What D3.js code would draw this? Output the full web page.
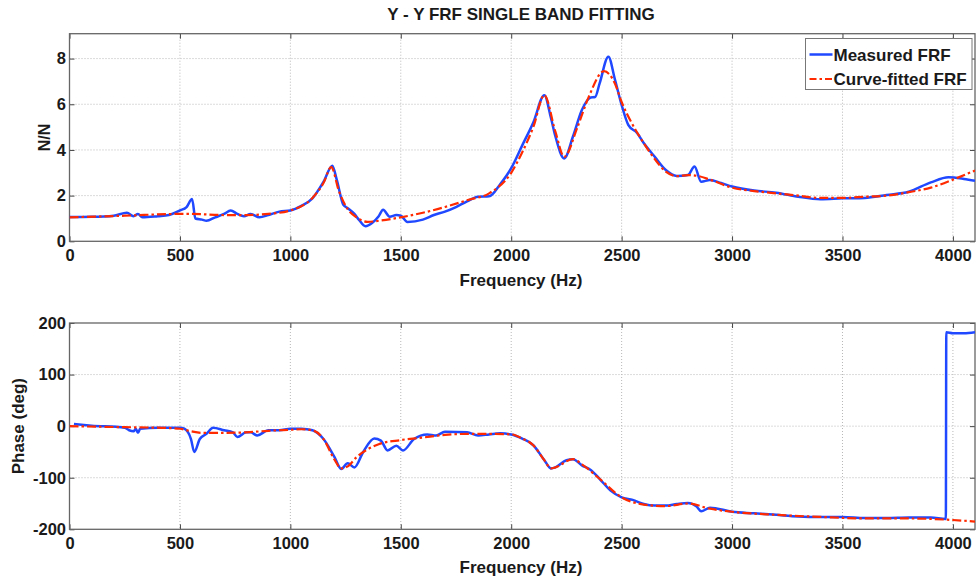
<!DOCTYPE html>
<html>
<head>
<meta charset="utf-8">
<script src="https://cdn.jsdelivr.net/npm/d3@7"></script>
<style>
  html, body { margin: 0; padding: 0; background: #fff; }
  svg { display: block; font-family: "Liberation Sans", Arial, sans-serif; }
</style>
</head>
<body>
<svg id="chart" width="976" height="583"></svg>
<script>
// ---------- DATA ----------
const title = "Y - Y FRF SINGLE BAND FITTING";
const seriesNames = ["Measured FRF", "Curve-fitted FRF"];
const freqTicks = [0, 500, 1000, 1500, 2000, 2500, 3000, 3500, 4000];
const magTicks = [0, 2, 4, 6, 8];
const phaseTicks = [-200, -100, 0, 100, 200];

// Magnitude, measured [Hz, N/N]
const magMeasured = [
  [0,1.06],[100,1.07],[200,1.12],[260,1.25],[290,1.1],[310,1.2],[330,1.05],[400,1.1],[450,1.15],
  [500,1.35],[530,1.5],[555,1.85],[570,1.0],[600,0.95],[620,0.9],[660,1.05],[700,1.2],[730,1.35],
  [760,1.2],[790,1.1],[820,1.2],[860,1.05],[900,1.15],[950,1.3],[1000,1.35],[1050,1.55],[1100,1.88],
  [1150,2.6],[1190,3.31],[1210,2.7],[1240,1.6],[1260,1.45],[1290,1.2],[1310,0.95],[1340,0.66],
  [1370,0.8],[1400,1.1],[1420,1.38],[1450,1.08],[1480,1.15],[1500,1.12],[1530,0.85],[1600,0.95],
  [1650,1.15],[1700,1.3],[1750,1.5],[1800,1.75],[1850,1.95],[1900,1.97],[1950,2.5],[2000,3.2],
  [2050,4.2],[2100,5.2],[2150,6.4],[2180,5.4],[2200,4.6],[2240,3.63],[2280,4.6],[2320,5.75],
  [2360,6.3],[2380,6.32],[2400,6.9],[2440,8.08],[2470,7.07],[2500,5.97],[2530,5.1],[2570,4.74],
  [2600,4.3],[2650,3.7],[2700,3.12],[2750,2.86],[2800,2.9],[2830,3.27],[2860,2.61],[2900,2.68],
  [2950,2.55],[3000,2.4],[3100,2.22],[3200,2.13],[3300,1.95],[3400,1.84],[3500,1.88],[3600,1.9],
  [3700,2.03],[3800,2.17],[3900,2.58],[3980,2.8],[4050,2.73],[4100,2.65]
];
// Magnitude, curve-fitted
const magFitted = [
  [0,1.05],[250,1.12],[500,1.2],[550,1.2],[700,1.15],[800,1.15],[900,1.2],[1000,1.35],[1100,1.9],
  [1150,2.55],[1185,3.25],[1220,2.2],[1260,1.4],[1300,1.05],[1350,0.85],[1400,0.9],[1500,1.05],
  [1600,1.25],[1700,1.5],[1800,1.8],[1900,2.1],[2000,3.0],[2050,3.9],[2100,5.0],[2150,6.4],
  [2200,4.8],[2240,3.7],[2300,5.0],[2350,6.3],[2420,7.45],[2470,6.9],[2500,6.1],[2550,5.1],
  [2600,4.3],[2650,3.6],[2700,3.05],[2750,2.85],[2800,2.9],[2850,2.85],[2900,2.7],[3000,2.35],
  [3100,2.2],[3200,2.1],[3300,2.0],[3400,1.9],[3500,1.9],[3600,1.95],[3700,2.0],[3800,2.15],
  [3900,2.35],[4000,2.7],[4100,3.1]
];
// Phase, measured [Hz, deg]
const phaseMeasured = [
  [20,4],[100,1],[250,-3],[270,-8],[290,-10],[300,-5],[310,-13],[320,-5],[400,-3],[500,-3],
  [520,-5],[550,-25],[565,-50],[590,-25],[620,-15],[650,-3],[700,-8],[740,-12],[760,-21],[800,-12],
  [820,-12],[850,-18],[900,-8],[950,-8],[1000,-5],[1050,-5],[1100,-8],[1150,-25],[1200,-60],
  [1230,-83],[1260,-72],[1290,-80],[1330,-50],[1380,-24],[1410,-28],[1440,-47],[1480,-38],
  [1510,-47],[1560,-25],[1620,-16],[1660,-18],[1700,-11],[1800,-12],[1850,-18],[1900,-16],
  [1950,-14],[2000,-16],[2050,-24],[2100,-37],[2150,-66],[2180,-82],[2200,-80],[2250,-66],
  [2280,-64],[2320,-76],[2360,-85],[2400,-102],[2450,-125],[2500,-138],[2550,-143],[2600,-151],
  [2650,-154],[2700,-154],[2750,-151],[2800,-149],[2840,-156],[2860,-165],[2900,-158],[3000,-166],
  [3100,-169],[3200,-172],[3300,-175],[3400,-176],[3500,-176],[3600,-178],[3700,-178],[3800,-177],
  [3900,-177],[3968,-180],[3970,182],[4000,180],[4050,180],[4100,182]
];
// Phase, curve-fitted
const phaseFitted = [
  [0,0],[250,-2],[400,-3],[500,-5],[550,-10],[600,-13],[700,-13],[800,-12],[900,-9],[1000,-7],
  [1050,-6],[1100,-8],[1150,-25],[1200,-65],[1230,-82],[1260,-78],[1300,-60],[1350,-45],[1400,-35],
  [1500,-27],[1600,-22],[1700,-17],[1800,-15],[1900,-15],[2000,-16],[2050,-24],[2100,-37],[2150,-66],
  [2180,-82],[2200,-80],[2280,-64],[2320,-74],[2400,-102],[2500,-138],[2600,-152],[2700,-155],
  [2800,-150],[2900,-160],[3000,-166],[3200,-172],[3400,-176],[3600,-179],[3800,-179],[4000,-182],
  [4100,-185]
];

// ---------- STYLE ----------
const blue = "#1f48ff";
const red = "#ff2a00";
const svg = d3.select("#chart");
const FS = 16.5;

const x = d3.scaleLinear().domain([0, 4100]).range([69.5, 975]);

function panel(top, bottom, domain, ticks, yLabel, yLabelX, yLabelSize, measured, fitted, xLabelY) {
  const y = d3.scaleLinear().domain(domain).range([bottom, top]);
  const g = svg.append("g");
  const L = x.range()[0], R = x.range()[1];

  // grid
  g.append("g").selectAll("line").data(freqTicks.filter(t => t > 0)).join("line")
    .attr("x1", d => x(d)).attr("x2", d => x(d)).attr("y1", top).attr("y2", bottom)
    .attr("stroke", "#b8b8b8").attr("stroke-width", 1).attr("stroke-dasharray", "1,2");
  g.append("g").selectAll("line").data(ticks.filter(t => t > domain[0] && t < domain[1])).join("line")
    .attr("x1", L).attr("x2", R).attr("y1", d => y(d)).attr("y2", d => y(d))
    .attr("stroke", "#b8b8b8").attr("stroke-width", 1).attr("stroke-dasharray", "1,2");

  const fmt = d => String(d);
  // axes (ticks inward)
  const ax = g.append("g").attr("transform", `translate(0,${bottom})`)
    .call(d3.axisBottom(x).tickValues(freqTicks).tickFormat(fmt).tickSizeInner(-5).tickSizeOuter(0).tickPadding(8));
  const axTop = g.append("g").attr("transform", `translate(0,${top})`)
    .call(d3.axisTop(x).tickValues(freqTicks).tickSizeInner(-5).tickSizeOuter(0).tickFormat(""));
  const ay = g.append("g").attr("transform", `translate(${L},0)`)
    .call(d3.axisLeft(y).tickValues(ticks).tickFormat(fmt).tickSizeInner(-5).tickSizeOuter(0).tickPadding(3.5));
  const ayR = g.append("g").attr("transform", `translate(${R},0)`)
    .call(d3.axisRight(y).tickValues(ticks).tickSizeInner(-5).tickSizeOuter(0).tickFormat(""));
  [ax, axTop, ay, ayR].forEach(a => {
    a.select(".domain").remove();
    a.selectAll(".tick line").attr("stroke", "#444").attr("stroke-width", 1);
    a.selectAll("text").attr("fill", "#1a1a1a").attr("font-size", FS).attr("font-weight", "bold")
      .attr("font-family", "Liberation Sans, Arial, sans-serif");
  });

  // frame
  g.append("rect").attr("x", L).attr("y", top).attr("width", R - L).attr("height", bottom - top)
    .attr("fill", "none").attr("stroke", "#666").attr("stroke-width", 1.3);

  // lines
  const clipId = "clip" + Math.round(top);
  svg.append("clipPath").attr("id", clipId).append("rect")
    .attr("x", L).attr("y", top).attr("width", R - L).attr("height", bottom - top);
  const line = d3.line().x(d => x(d[0])).y(d => y(d[1])).curve(d3.curveMonotoneX);
  g.append("path").datum(measured).attr("clip-path", `url(#${clipId})`)
    .attr("d", line).attr("fill", "none").attr("stroke", blue).attr("stroke-width", 2.5)
    .attr("stroke-linejoin", "round");
  g.append("path").datum(fitted).attr("clip-path", `url(#${clipId})`)
    .attr("d", line).attr("fill", "none").attr("stroke", red).attr("stroke-width", 2.2)
    .attr("stroke-dasharray", "9,3,2.5,3");

  // labels
  g.append("text").attr("x", 521).attr("y", xLabelY).attr("text-anchor", "middle")
    .attr("font-size", 17).attr("font-weight", "bold").attr("fill", "#1a1a1a").text("Frequency (Hz)");
  g.append("text").attr("transform", `translate(${yLabelX},${(top + bottom) / 2}) rotate(-90)`)
    .attr("text-anchor", "middle").attr("font-size", yLabelSize).attr("font-weight", "bold")
    .attr("fill", "#1a1a1a").text(yLabel);
  return { y, L, R, top };
}

svg.append("text").attr("x", 521).attr("y", 20).attr("text-anchor", "middle")
  .attr("font-size", 17).attr("font-weight", "bold").attr("fill", "#1a1a1a").text(title);

panel(33.7, 241.3, [0, 9.09], magTicks, "N/N", 49.5, 16, magMeasured, magFitted, 285.5);
panel(323, 529.3, [-200, 200], phaseTicks, "Phase (deg)", 23.5, 17, phaseMeasured, phaseFitted, 572.5);

// legend
const lg = svg.append("g").attr("transform", "translate(805.5,38.5)");
lg.append("rect").attr("width", 166.5).attr("height", 51).attr("fill", "#fff")
  .attr("stroke", "#777").attr("stroke-width", 1);
const items = [{ n: seriesNames[0], c: blue, d: null, w: 2.5 }, { n: seriesNames[1], c: red, d: "7,3,2.5,3", w: 2.2 }];
items.forEach((it, i) => {
  const yy = 16 + i * 24.5;
  lg.append("line").attr("x1", 4).attr("x2", 27).attr("y1", yy).attr("y2", yy)
    .attr("stroke", it.c).attr("stroke-width", it.w).attr("stroke-dasharray", it.d);
  lg.append("text").attr("x", 28).attr("y", yy + 6).attr("font-size", 17).attr("font-weight", "bold")
    .attr("fill", "#1a1a1a").text(it.n);
});
</script>
</body>
</html>
